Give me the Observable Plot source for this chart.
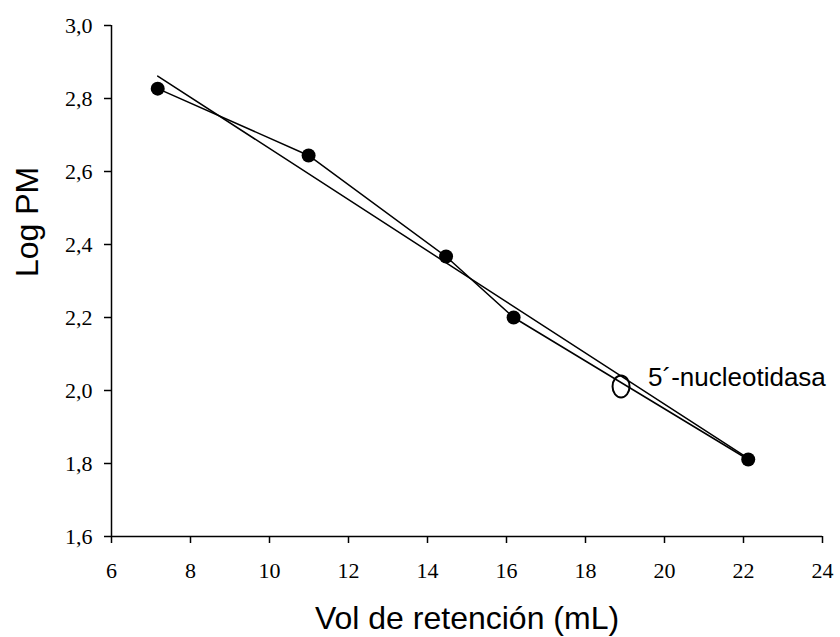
<!DOCTYPE html>
<html>
<head>
<meta charset="utf-8">
<script src="https://cdn.jsdelivr.net/npm/d3@7"></script>
<script src="https://cdn.jsdelivr.net/npm/@observablehq/plot@0.6"></script>
<style>
  html, body { margin: 0; padding: 0; background: white; }
</style>
</head>
<body>
<div id="chart"></div>
<script>
// Standards (filled points)
const retentionVol = [7.17, 10.99, 14.47, 16.18, 22.12];
const logPM = [2.827, 2.644, 2.367, 2.200, 1.811];

// Unknown sample (open circle)
const unknownVol = [18.9];
const unknownLogPM = [2.011];
const unknownLabel = ["5´-nucleotidasa"];

// Axes
const xTicks = [6, 8, 10, 12, 14, 16, 18, 20, 22, 24];
const yTicks = [1.6, 1.8, 2.0, 2.2, 2.4, 2.6, 2.8, 3.0];
const yTickLabels = ["1,6", "1,8", "2,0", "2,2", "2,4", "2,6", "2,8", "3,0"];
const xTitle = "Vol de retención (mL)";
const yTitle = "Log PM";

const standards = retentionVol.map((v, i) => ({vol: v, log: logPM[i]}));
const unknown = unknownVol.map((v, i) => ({vol: v, log: unknownLogPM[i], label: unknownLabel[i]}));

const ellipse = {
  draw(context) {
    const rx = 8.5, ry = 11, k = 0.5523;
    context.moveTo(rx, 0);
    context.bezierCurveTo(rx, ry * k, rx * k, ry, 0, ry);
    context.bezierCurveTo(-rx * k, ry, -rx, ry * k, -rx, 0);
    context.bezierCurveTo(-rx, -ry * k, -rx * k, -ry, 0, -ry);
    context.bezierCurveTo(rx * k, -ry, rx, -ry * k, rx, 0);
    context.closePath();
  }
};

const sans = "Liberation Sans, Arial, sans-serif";
const serif = "Liberation Serif, Times New Roman, serif";

const chart = Plot.plot({
  width: 840,
  height: 637,
  marginLeft: 111,
  marginRight: 18,
  marginTop: 25,
  marginBottom: 101,
  style: {background: "white", color: "black", fontFamily: serif, fontSize: "22px"},
  x: {domain: [6, 24]},
  y: {domain: [1.6, 3.0]},
  marks: [
    Plot.axisX({ticks: xTicks, tickSize: 7, tickPadding: 19, tickFormat: d => String(d),
      fontSize: 22, fontFamily: serif, stroke: "black", strokeWidth: 1.5, label: null}),
    Plot.axisY({ticks: yTicks, tickSize: 7, tickPadding: 12,
      tickFormat: d => yTickLabels[yTicks.findIndex(t => Math.abs(t - d) < 1e-9)],
      fontSize: 22, fontFamily: serif, stroke: "black", strokeWidth: 1.5, label: null}),
    Plot.ruleX([6], {stroke: "black", strokeWidth: 1.5}),
    Plot.ruleY([1.6], {stroke: "black", strokeWidth: 1.5}),
    Plot.linearRegressionY(standards, {x: "vol", y: "log", ci: 0, stroke: "black", strokeWidth: 1.5}),
    Plot.line(standards, {x: "vol", y: "log", stroke: "black", strokeWidth: 1.5}),
    Plot.dot(standards, {x: "vol", y: "log", r: 7, fill: "black", stroke: "none"}),
    Plot.dot(unknown, {x: "vol", y: "log", symbol: ellipse, r: 10, fill: "none", stroke: "black", strokeWidth: 2}),
    Plot.text(unknown, {x: "vol", y: "log", text: "label", textAnchor: "start", lineAnchor: "middle",
      dx: 27, dy: -9, fontSize: 26, fontFamily: sans, fill: "black"}),
    Plot.text([xTitle], {frameAnchor: "bottom", dy: 82, lineAnchor: "middle", fontSize: 32, fontFamily: sans, fill: "black"}),
    Plot.text([yTitle], {frameAnchor: "left", dx: -84, dy: -4, rotate: -90, lineAnchor: "middle", fontSize: 32, fontFamily: sans, fill: "black"})
  ]
});

document.getElementById("chart").appendChild(chart);
</script>
</body>
</html>
